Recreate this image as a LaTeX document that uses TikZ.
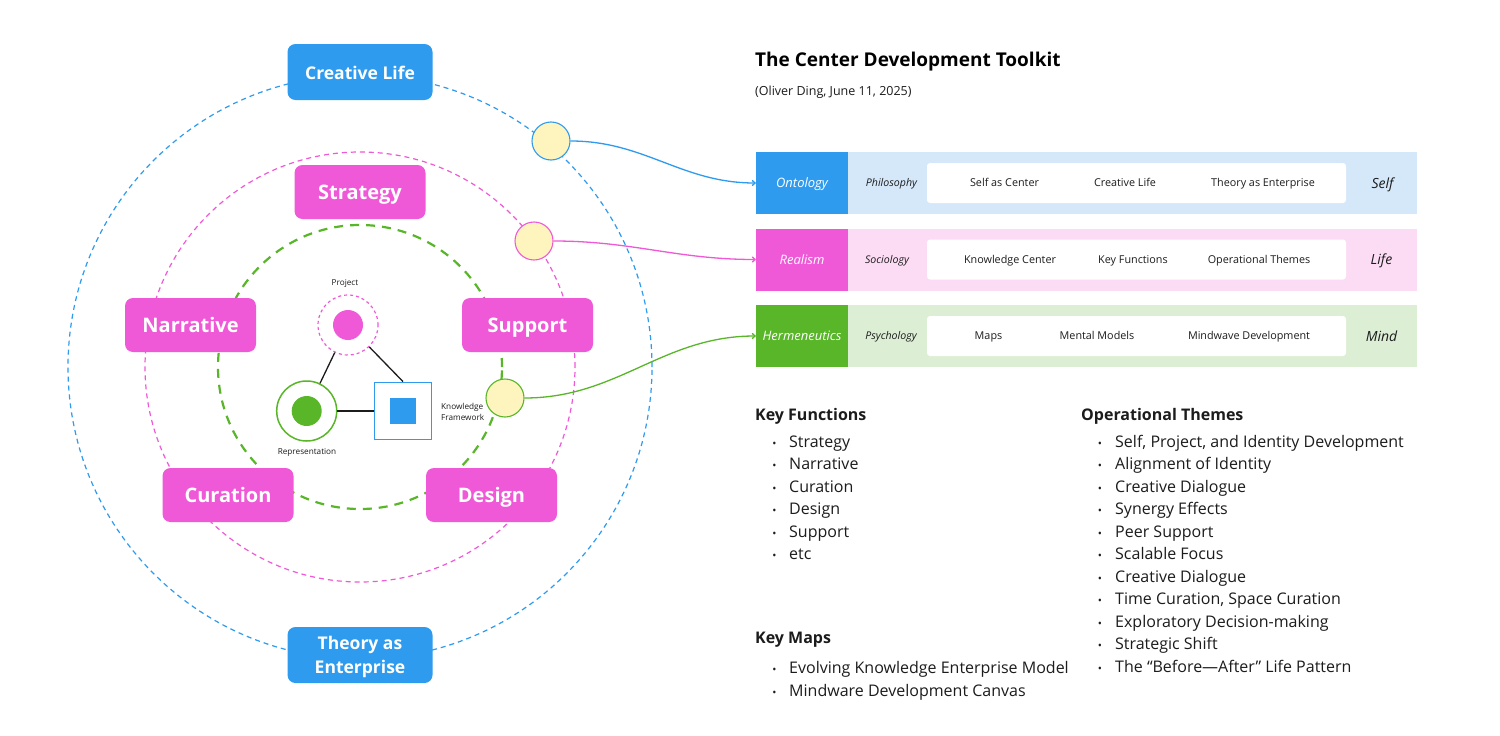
\documentclass[tikz,border=0pt]{standalone}
\usepackage{fontspec}
\setmainfont{Open Sans}
\usetikzlibrary{arrows.meta}
\definecolor{cblue}{HTML}{2E9BEF}
\definecolor{cmag}{HTML}{EF59D7}
\definecolor{cgreen}{HTML}{58B628}
\definecolor{lblue}{HTML}{D5E8F9}
\definecolor{lpink}{HTML}{FCDCF4}
\definecolor{lgreen}{HTML}{DCEED4}
\definecolor{cyel}{HTML}{FEF5BE}
\definecolor{ctext}{HTML}{1C1C1C}
\newcommand{\fs}[1]{\fontsize{#1}{#1}\selectfont}
\begin{document}
\begin{tikzpicture}[x=1pt,y=-1pt,
  bbox/.style={fill=cblue, rounded corners=8pt, minimum width=145pt, minimum height=56pt, inner sep=0pt, text=white, align=center},
  pbox/.style={fill=cmag, rounded corners=8pt, minimum width=131pt, minimum height=54pt, inner sep=0pt, text=white, font=\fs{20}\bfseries, text height=16pt, text depth=1.7pt},
  ycirc/.style={circle, fill=cyel, minimum size=38pt, inner sep=0pt, line width=1.1pt},
  rowlab/.style={minimum width=92pt, minimum height=62pt, inner sep=0pt, text=white, font=\fs{13}\itshape, text height=11pt, text depth=1.7pt},
  cat/.style={text=ctext, font=\fs{10.6}\itshape, inner sep=0pt, text height=9pt, text depth=1.4pt},
  itm/.style={text=ctext, font=\fs{10.8}, inner sep=0pt, text height=9pt, text depth=1.3pt},
  dom/.style={text=ctext, font=\fs{14}\itshape, inner sep=0pt, text height=12pt, text depth=2pt},
  small/.style={text=ctext, font=\fs{8.2}, inner sep=0pt, text height=7pt, text depth=1.1pt},
  head/.style={text=ctext, font=\fs{16}\bfseries, anchor=west, inner sep=0pt, text height=14pt, text depth=2.6pt},
  li/.style={text=ctext, font=\fs{16}, anchor=west, inner sep=0pt, text height=14pt, text depth=2.6pt},
  bul/.style={text=ctext, font=\fs{11}, inner sep=0pt, anchor=base},
  conn/.style={line width=1.3pt, -{To[length=4pt,width=6pt]}},
]
\useasboundingbox (0,0) rectangle (1500,736);
\fill[white] (0,0) rectangle (1500,736);

% orbits
\draw[cblue, line width=1.2pt, dash pattern=on 5pt off 4pt] (360,367) circle[radius=292pt];
\draw[cmag, line width=1.2pt, dash pattern=on 5pt off 4pt] (360,367) circle[radius=215pt];
\draw[cgreen, line width=2.2pt, dash pattern=on 9pt off 7pt] (360,367) circle[radius=142pt];

% boxes
\node[bbox, font=\fs{17.5}\bfseries, text height=14.6pt, text depth=0pt] (cl) at (360,72) {Creative Life};
\node[bbox, font=\fontsize{17.5}{24}\selectfont\bfseries] (te) at (360,655) {Theory as\\\smash{Enterprise}};
\node[pbox] (st) at (360,192) {Strategy};
\node[pbox] (na) at (190.5,325) {Narrative};
\node[pbox] (su) at (527.5,325) {Support};
\node[pbox] (cu) at (228,495) {Curation};
\node[pbox] (de) at (491.5,495) {Design};

% yellow connectors
\node[ycirc, draw=cblue] (y1) at (551,141) {};
\node[ycirc, draw=cmag] (y2) at (534,241) {};
\node[ycirc, draw=cgreen] (y3) at (505,398) {};

% centre triangle
\node[circle, draw=cmag, dashed, line width=1.2pt, minimum size=60pt, inner sep=0pt] (proj) at (348,325) {};
\node[circle, fill=cmag, minimum size=30pt, inner sep=0pt] (projin) at (proj) {};
\node[circle, draw=cgreen, line width=1.5pt, minimum size=60pt, inner sep=0pt] (rep) at (306.7,411) {};
\node[circle, fill=cgreen, minimum size=30pt, inner sep=0pt] (repin) at (rep) {};
\node[draw=cblue, line width=1.8pt, minimum size=57pt, inner sep=0pt] (kf) at (403,411) {};
\node[fill=cblue, minimum size=26pt, inner sep=0pt] (kfin) at (kf) {};
\draw[line width=1.3pt, ctext] (proj) -- (rep);
\draw[line width=1.3pt, ctext] (proj) -- (kf.north);
\draw[line width=1.3pt, ctext] (rep) -- (kf);
\node[small] (lproj) at (345,283) {Project};
\node[small] (lrep) at (307,452) {Representation};
\node[text=ctext, font=\fontsize{8.2}{11}\selectfont, inner sep=0pt, anchor=west, align=left] (lkf) at (441,412) {Knowledge\\Framework};

% title
\node[anchor=west, inner sep=0pt, font=\fs{19}\bfseries, text=black, text height=16pt, text depth=2.4pt] (title) at (755,60) {The Center Development Toolkit};
\node[anchor=west, inner sep=0pt, font=\fs{12.5}, text=ctext, text height=11pt, text depth=2.1pt] (sub) at (755,91) {(Oliver Ding, June 11, 2025)};

% rows
\fill[lblue] (848,152) rectangle (1417,214);
\fill[lpink] (848,228.5) rectangle (1417,290.5);
\fill[lgreen] (848,305) rectangle (1417,367);
\fill[white, rounded corners=3pt] (927,163) rectangle (1346,203);
\fill[white, rounded corners=3pt] (927,239.5) rectangle (1346,279.5);
\fill[white, rounded corners=3pt] (927,316) rectangle (1346,356);
\node[rowlab, fill=cblue] (ont) at (802,183) {Ontology};
\node[rowlab, fill=cmag] (rea) at (802,259.5) {Realism};
\node[rowlab, fill=cgreen] (her) at (802,336) {Hermeneutics};

\node[cat] (c1) at (891.5,183) {Philosophy};
\node[cat] (c2) at (887,259.5) {Sociology};
\node[cat] (c3) at (891,336) {Psychology};
\node[itm] (i11) at (1004.5,183) {Self as Center};
\node[itm] (i12) at (1125,183) {Creative Life};
\node[itm] (i13) at (1263,183) {Theory as Enterprise};
\node[itm] (i21) at (1010,259.5) {Knowledge Center};
\node[itm] (i22) at (1133,259.5) {Key Functions};
\node[itm] (i23) at (1259,259.5) {Operational Themes};
\node[itm] (i31) at (988.5,336) {Maps};
\node[itm] (i32) at (1097,336) {Mental Models};
\node[itm] (i33) at (1249,336) {Mindwave Development};
\node[dom] (d1) at (1382.5,183) {Self};
\node[dom] (d2) at (1381.5,259.5) {Life};
\node[dom] (d3) at (1381.5,336) {Mind};

% connectors
\draw[conn, cblue] (y1.east) to[out=0, in=180] (ont.west);
\draw[conn, cmag] (y2.east) to[out=0, in=180] (rea.west);
\draw[conn, cgreen] (y3.east) to[out=0, in=180] (her.west);

% lists
\node[head] (hkf) at (755,414.5) {Key Functions};
\foreach \t [count=\i] in {Strategy, Narrative, Curation, Design, Support, etc} {
  \node[li] (kfi\i) at (789,441.5+22.5*\i-22.5) {\t};
  \node[bul] (kfb\i) at ([yshift=-5.7pt]kfi\i.west -| 774.5,0) {•};
}
\node[head] (hkm) at (755,638) {Key Maps};
\foreach \t [count=\i] in {Evolving Knowledge Enterprise Model, Mindware Development Canvas} {
  \node[li] (kmi\i) at (789,668+22.5*\i-22.5) {\t};
  \node[bul] (kmb\i) at ([yshift=-5.7pt]kmi\i.west -| 774.5,0) {•};
}
\node[head] (hot) at (1081,414.5) {Operational Themes};
\foreach \t [count=\i] in {{Self, Project, and Identity Development}, Alignment of Identity, Creative Dialogue, Synergy Effects, Peer Support, Scalable Focus, Creative Dialogue, {Time Curation, Space Curation}, Exploratory Decision-making, Strategic Shift, The “Before—After” Life Pattern} {
  \node[li] (oti\i) at (1115,441.5+22.5*\i-22.5) {\t};
  \node[bul] (otb\i) at ([yshift=-5.7pt]oti\i.west -| 1100,0) {•};
}
\end{tikzpicture}
\end{document}
